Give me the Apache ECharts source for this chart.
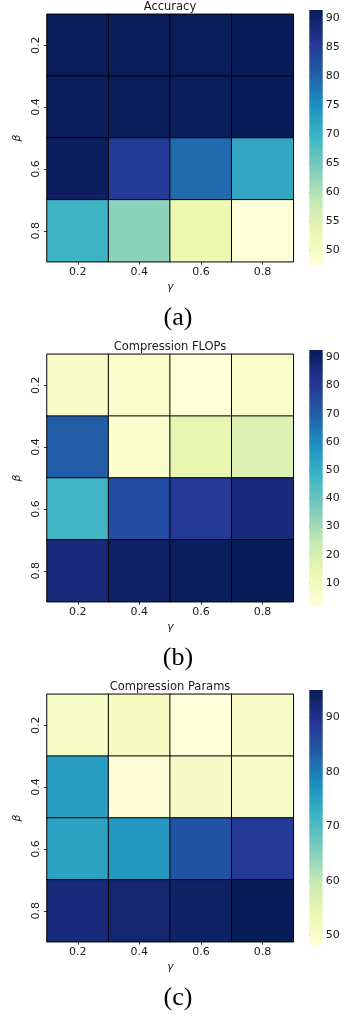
<!DOCTYPE html>
<html>
<head>
<meta charset="utf-8">
<script src="https://cdn.jsdelivr.net/npm/echarts@6/dist/echarts.min.js"></script>
<style>
  html, body { margin: 0; padding: 0; background: #fff; }
  #main { width: 344px; height: 1017px; }
</style>
</head>
<body>
<div id="main"></div>
<script>
// grid values, rows = beta (0.2 .. 0.8), columns = gamma (0.2 .. 0.8)
var gammaLabels = ['0.2', '0.4', '0.6', '0.8'];
var betaLabels = ['0.2', '0.4', '0.6', '0.8'];

var accuracy = [
    [91.3, 91.2, 91.3, 91.4],
    [91.2, 91.3, 91.2, 91.4],
    [90.6, 84.8, 79.0, 71.5],
    [69.7, 62.7, 52.7, 47.2]
];
var flops = [
    [6.2, 5.8, 1.7, 5.5],
    [69.9, 5.0, 14.4, 18.0],
    [47.0, 74.4, 79.9, 86.2],
    [86.0, 90.0, 91.5, 92.6]
];
var params = [
    [50.8, 51.3, 48.0, 50.4],
    [75.3, 48.5, 51.0, 50.8],
    [74.8, 76.2, 84.7, 88.4],
    [91.7, 92.7, 93.6, 95.0]
];

var accuracyTicks = [50, 55, 60, 65, 70, 75, 80, 85, 90];
var flopsTicks = [10, 20, 30, 40, 50, 60, 70, 80, 90];
var paramsTicks = [50, 60, 70, 80, 90];

var titles = ['Accuracy', 'Compression FLOPs', 'Compression Params'];
var captions = ['(a)', '(b)', '(c)'];

// YlGnBu
var ylGnBu = ['#ffffd9', '#edf8b1', '#c7e9b4', '#7fcdbb', '#41b6c4', '#1d91c0', '#225ea8', '#253494', '#081d58'];

var panels = [
    {data: accuracy, ticks: accuracyTicks},
    {data: flops, ticks: flopsTicks},
    {data: params, ticks: paramsTicks}
];

var font = 'DejaVu Sans';
var textColor = '#1a1a1a';

var grid = [], xAxis = [], yAxis = [], series = [], visualMap = [], title = [], graphic = [];

var gradStops = [];
for (var k = 0; k < ylGnBu.length; k++) {
    gradStops.push({offset: k / (ylGnBu.length - 1), color: ylGnBu[ylGnBu.length - 1 - k]});
}

panels.forEach(function (p, i) {
    var off = i * 340;
    var flat = [];
    var cells = [];
    p.data.forEach(function (row, r) {
        row.forEach(function (v, c) {
            cells.push([c, r, v]);
            flat.push(v);
        });
    });
    var vmin = Math.min.apply(null, flat);
    var vmax = Math.max.apply(null, flat);

    // heatmap grid
    grid.push({left: 47, top: off + 14.3, width: 246.3, height: 247.4});
    // colorbar grid
    grid.push({left: 309.3, top: off + 10, width: 13.4, height: 256.3});

    xAxis.push({
        type: 'category', gridIndex: 2 * i, data: gammaLabels,
        axisLine: {show: false},
        axisTick: {show: true, alignWithLabel: true, length: 3, lineStyle: {color: '#333'}},
        axisLabel: {fontFamily: font, fontSize: 11, color: textColor, margin: 5},
        name: 'γ', nameLocation: 'middle', nameGap: 20,
        nameTextStyle: {fontFamily: font, fontSize: 11, fontStyle: 'italic', color: textColor},
        splitLine: {show: false}
    });
    xAxis.push({type: 'value', gridIndex: 2 * i + 1, min: 0, max: 1, show: false});

    yAxis.push({
        type: 'category', gridIndex: 2 * i, data: betaLabels, inverse: true,
        axisLine: {show: false},
        axisTick: {show: true, alignWithLabel: true, length: 3, lineStyle: {color: '#333'}},
        axisLabel: {fontFamily: font, fontSize: 11, color: textColor, rotate: 90, margin: 5},
        name: 'β', nameLocation: 'middle', nameGap: 22, nameRotate: 90,
        nameTextStyle: {fontFamily: font, fontSize: 11, fontStyle: 'italic', color: textColor},
        splitLine: {show: false}
    });
    yAxis.push({
        type: 'value', gridIndex: 2 * i + 1, min: vmin, max: vmax, position: 'right',
        axisLine: {show: false},
        splitLine: {show: false},
        axisTick: {show: true, customValues: p.ticks, length: 3.5, lineStyle: {color: '#333'}},
        axisLabel: {customValues: p.ticks, fontFamily: font, fontSize: 11, color: textColor, margin: 3}
    });

    series.push({
        type: 'heatmap', xAxisIndex: 2 * i, yAxisIndex: 2 * i,
        data: cells,
        itemStyle: {borderColor: '#000', borderWidth: 1},
        emphasis: {disabled: true},
        progressive: 0
    });
    visualMap.push({
        type: 'continuous', show: false, seriesIndex: 2 * i,
        min: vmin, max: vmax, inRange: {color: ylGnBu}
    });
    series.push({
        type: 'custom', xAxisIndex: 2 * i + 1, yAxisIndex: 2 * i + 1,
        data: [[0, vmin, vmax]],
        silent: true,
        renderItem: function (params, api) {
            var top = api.coord([0, api.value(2)]);
            var bot = api.coord([0, api.value(1)]);
            var cs = params.coordSys;
            return {
                type: 'rect',
                shape: {x: cs.x, y: top[1], width: cs.width, height: bot[1] - top[1]},
                style: {fill: new echarts.graphic.LinearGradient(0, 0, 0, 1, gradStops)}
            };
        }
    });

    title.push({
        text: titles[i], left: 170, top: off + 1.5, textAlign: 'center', padding: 0,
        textStyle: {fontFamily: font, fontSize: 11.5, fontWeight: 'normal', color: textColor}
    });
    graphic.push({
        type: 'text', x: 178, y: off + 318,
        style: {
            text: captions[i], fontFamily: 'Liberation Serif', fontSize: 26,
            fill: '#000', textAlign: 'center', textVerticalAlign: 'middle'
        }
    });
});

var chart = echarts.init(document.getElementById('main'), null, {renderer: 'canvas'});
chart.setOption({
    animation: false,
    backgroundColor: '#fff',
    title: title,
    grid: grid,
    xAxis: xAxis,
    yAxis: yAxis,
    visualMap: visualMap,
    series: series,
    graphic: graphic
});
</script>
</body>
</html>
